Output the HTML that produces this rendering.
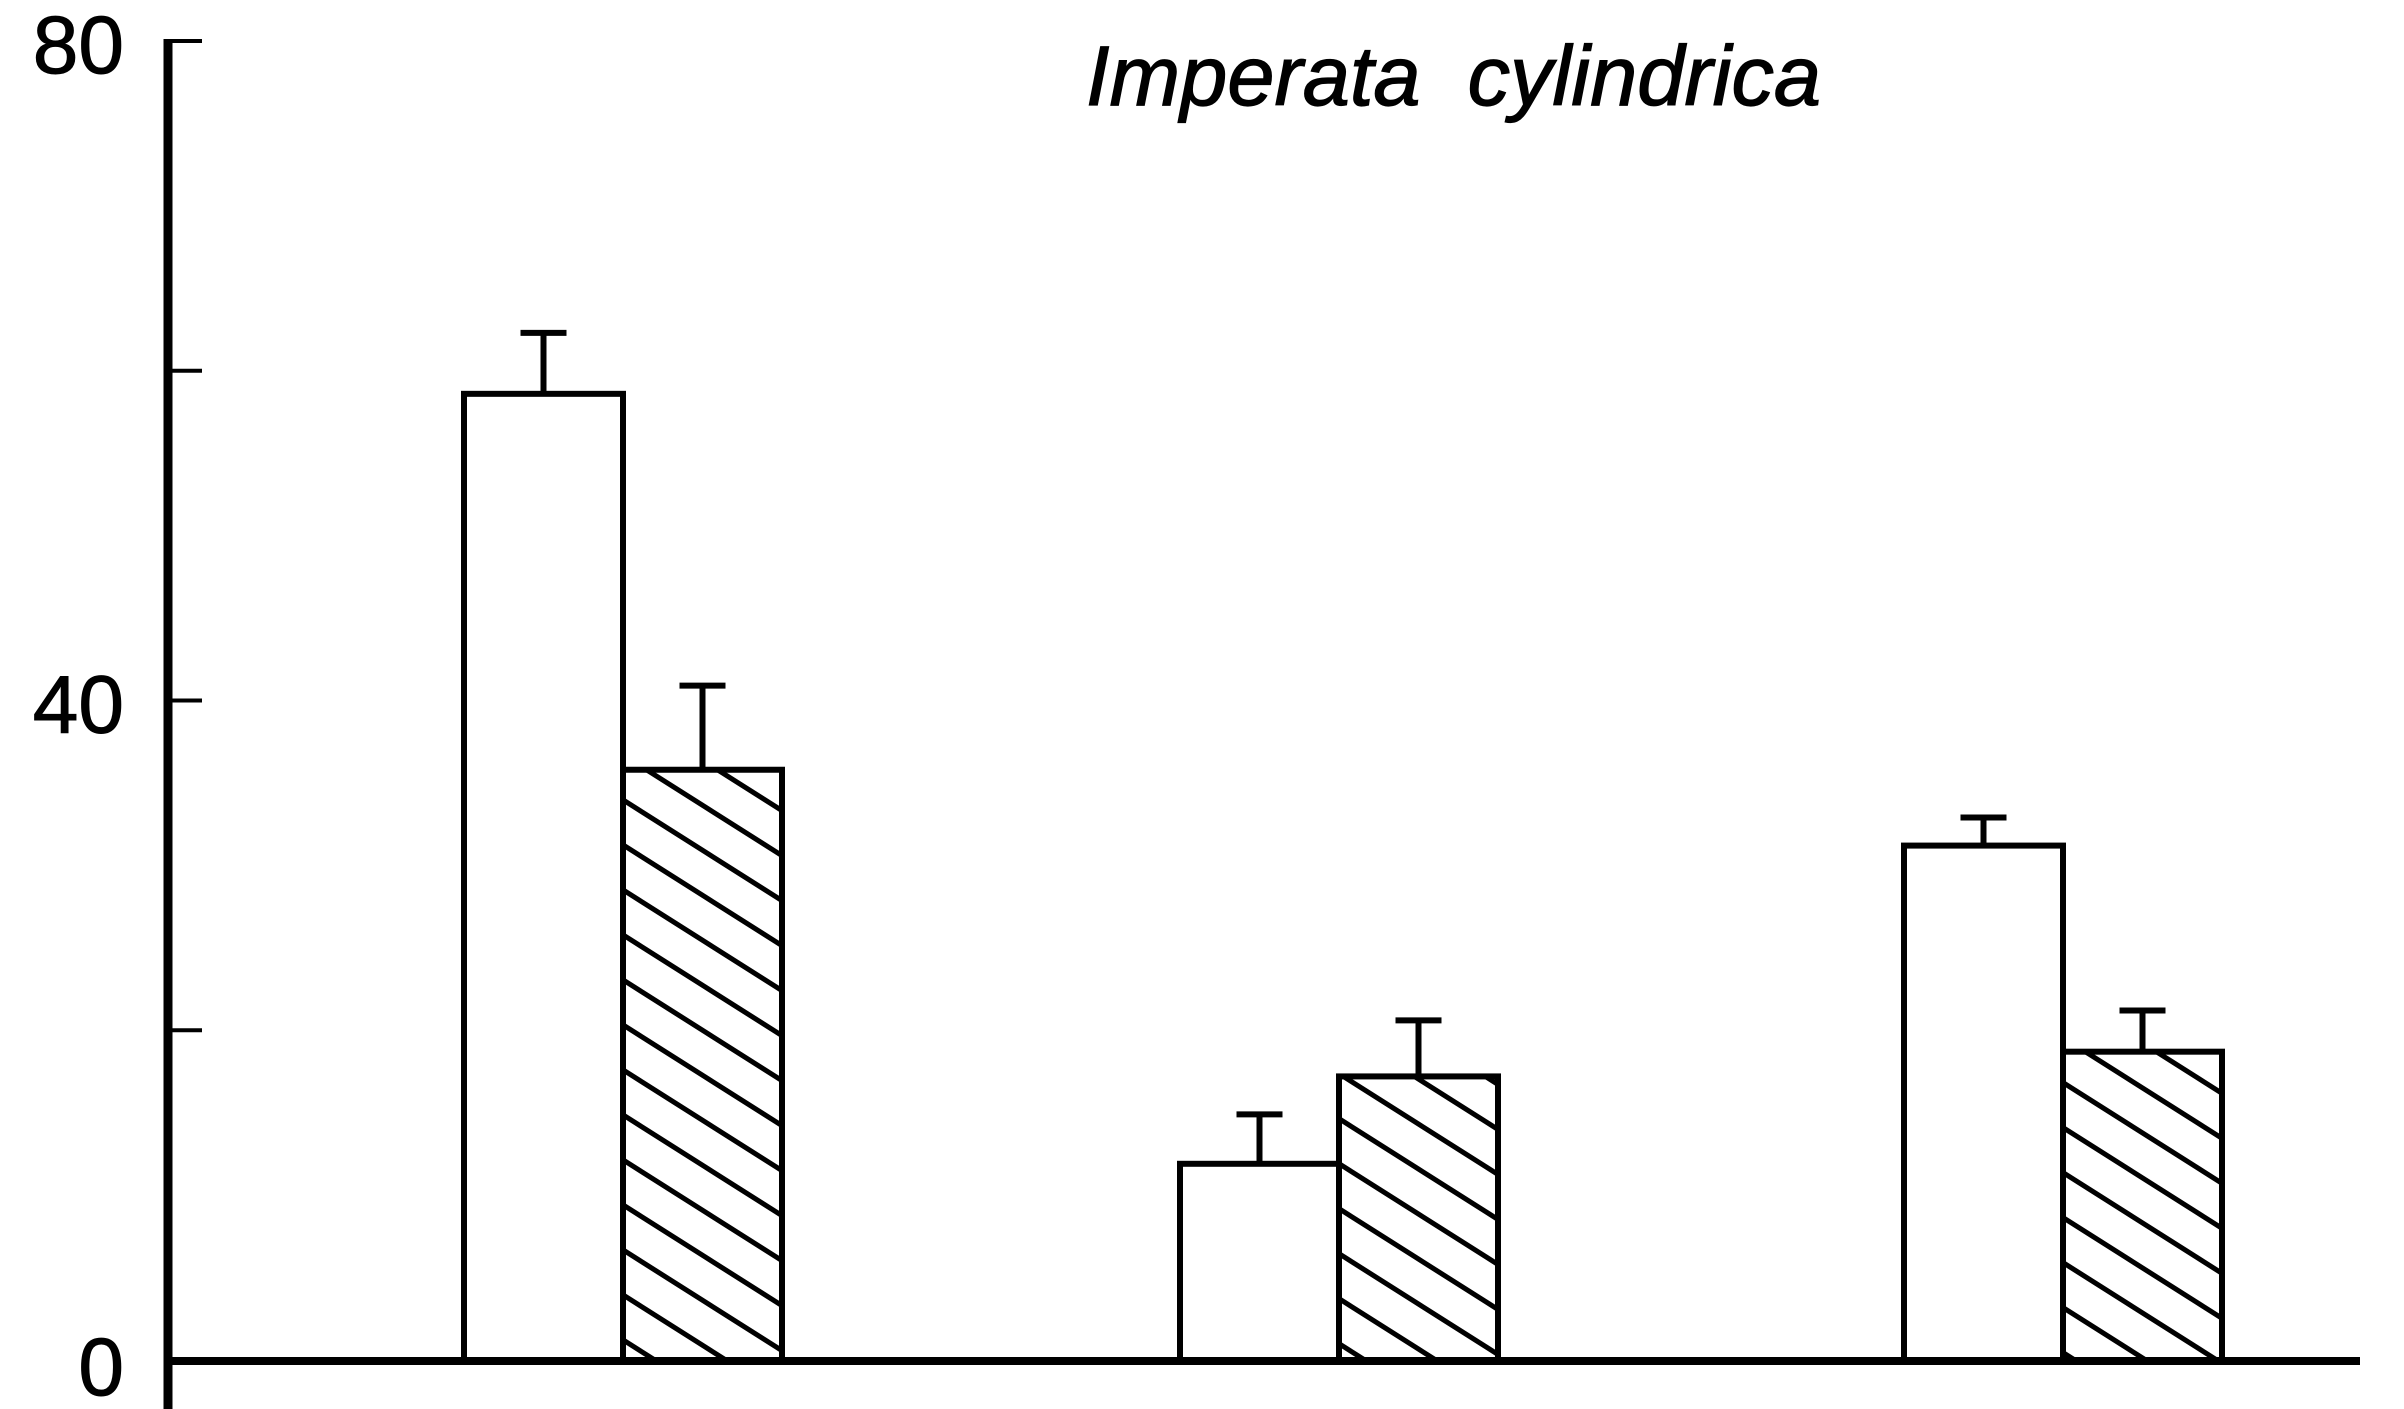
<!DOCTYPE html>
<html><head><meta charset="utf-8"><style>html,body{margin:0;padding:0;background:#fff}svg{display:block}</style></head>
<body>
<svg id="chart" width="2404" height="1409" viewBox="0 0 2404 1409" xmlns="http://www.w3.org/2000/svg">
<defs>
<pattern id="hatch" patternUnits="userSpaceOnUse" width="71" height="45">
<line x1="-71" y1="-45" x2="142" y2="90" stroke="#000" stroke-width="5"/>
<line x1="-71" y1="0" x2="142" y2="135" stroke="#000" stroke-width="5"/>
<line x1="-71" y1="-90" x2="142" y2="45" stroke="#000" stroke-width="5"/>
</pattern>
</defs>
<text x="1086" y="105" font-family="Liberation Sans, sans-serif" font-style="italic" font-size="84" stroke="#000" stroke-width="1.2" textLength="735" lengthAdjust="spacingAndGlyphs" style="white-space:pre">Imperata  cylindrica</text>
<g id="axes"></g>
<g id="bars"></g>
</svg>
<script>
const groups = ['g1','g2','g3'];
const openValues = [58.6, 11.9, 31.2];
const openErrors = [62.3, 14.9, 32.9];
const hatchValues = [35.8, 17.2, 18.7];
const hatchErrors = [40.9, 20.6, 21.2];
const yTicks = [0, 20, 40, 60, 80];
const yTickLabels = ['0', '', '40', '', '80'];

const NS = 'http://www.w3.org/2000/svg';
const y0 = 1360, y80 = 41;
function yScale(v){ return y0 - (v/80)*(y0-y80); }
const groupLeft = [464, 1180, 1904];
const barW = 159;
function xScale(i){ return groupLeft[i]; }
function mk(tag, attrs, parent){ const e=document.createElementNS(NS,tag); for(const k in attrs) e.setAttribute(k,attrs[k]); parent.appendChild(e); return e; }

const axes = document.getElementById('axes');
let ya = mk('line',{x1:168,y1:39,x2:168,y2:1409,stroke:'#000','stroke-width':9},axes);


let xa = mk('line',{x1:164,y1:1361,x2:2360,y2:1361,stroke:'#000','stroke-width':8},axes);


yTicks.forEach((t,i)=>{
  const y=yScale(t);
  if(t>0){
    let tk=mk('line',{x1:168,y1:y,x2:202,y2:y,stroke:'#000','stroke-width':4},axes);
    
    
  }
  if(yTickLabels[i]){
    let lb=mk('text',{x:124,y:y+(t===0?35:32),'text-anchor':'end','font-family':'Liberation Sans, sans-serif','font-size':82,stroke:'#000','stroke-width':1},axes);
    lb.textContent=yTickLabels[i];
    
    
  }
});

const bars = document.getElementById('bars');
groups.forEach((g,i)=>{
  const xl = xScale(i);
  [[openValues,openErrors,'#fff','open'],[hatchValues,hatchErrors,'url(#hatch)','hatched']].forEach((s,j)=>{
    const x = xl + j*barW;
    const top = yScale(s[0][i]);
    let r = mk('rect',{x:x,y:top,width:barW,height:y0-top,fill:s[2],stroke:'#000','stroke-width':6},bars);
    
    
    const cx = x+barW/2, et = yScale(s[1][i]);
    let e1 = mk('line',{x1:cx,y1:top,x2:cx,y2:et,stroke:'#000','stroke-width':6},bars);
    
    
    let e2 = mk('line',{x1:cx-23,y1:et,x2:cx+23,y2:et,stroke:'#000','stroke-width':6},bars);
    
    
  });
});
</script>
</body></html>
